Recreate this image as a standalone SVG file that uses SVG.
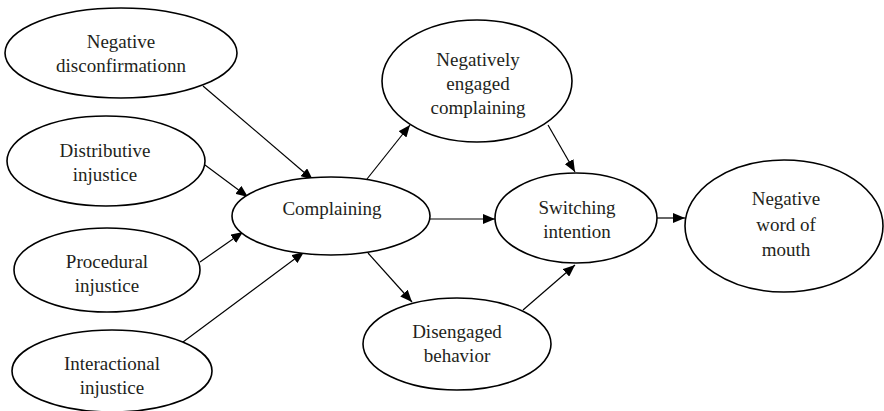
<svg xmlns="http://www.w3.org/2000/svg" width="884" height="411" viewBox="0 0 884 411">
<style>
.n ellipse{fill:#fff;stroke:#000;stroke-width:1.6}
.n text{font-family:"Liberation Serif","Times New Roman",serif;font-size:19px;fill:#231f20;text-anchor:middle}
.e line{stroke:#000;stroke-width:1.2;marker-end:url(#ah)}
</style>
<defs>
<marker id="ah" viewBox="0 0 12 10" refX="12" refY="5" markerWidth="12" markerHeight="10" markerUnits="userSpaceOnUse" orient="auto">
<path d="M0,0 L12,5 L0,10 Z" fill="#000"/>
</marker>
</defs>
<rect width="884" height="411" fill="#fff"/>
<g id="edges" class="e">
<line x1="203" y1="86" x2="313" y2="180"/>
<line x1="205" y1="165" x2="248" y2="197"/>
<line x1="200" y1="262" x2="243" y2="232"/>
<line x1="183" y1="342" x2="304" y2="252"/>
<line x1="367" y1="179" x2="410" y2="125"/>
<line x1="430" y1="219" x2="495" y2="219"/>
<line x1="368" y1="253" x2="412" y2="302"/>
<line x1="548" y1="125" x2="575" y2="172"/>
<line x1="523" y1="310" x2="575" y2="265"/>
<line x1="657" y1="218" x2="685" y2="218"/>
</g>
<g id="neg_disconf" class="n">
<ellipse cx="121" cy="53" rx="116" ry="45"/>
<text x="121" y="48">Negative</text>
<text x="121" y="72">disconfirmationn</text>
</g>
<g id="distributive" class="n">
<ellipse cx="106" cy="161" rx="99" ry="45"/>
<text x="105" y="157">Distributive</text>
<text x="105" y="181">injustice</text>
</g>
<g id="procedural" class="n">
<ellipse cx="107" cy="270" rx="93" ry="42"/>
<text x="107" y="268">Procedural</text>
<text x="107" y="292">injustice</text>
</g>
<g id="interactional" class="n">
<ellipse cx="112" cy="371" rx="100" ry="41"/>
<text x="112" y="370">Interactional</text>
<text x="112" y="394">injustice</text>
</g>
<g id="complaining" class="n">
<ellipse cx="331" cy="216" rx="99" ry="39"/>
<text x="332" y="215">Complaining</text>
</g>
<g id="neg_engaged" class="n">
<ellipse cx="477" cy="81" rx="95" ry="61"/>
<text x="478" y="66">Negatively</text>
<text x="478" y="90">engaged</text>
<text x="478" y="114">complaining</text>
</g>
<g id="switching" class="n">
<ellipse cx="576" cy="218" rx="81" ry="45"/>
<text x="577" y="214">Switching</text>
<text x="577" y="238">intention</text>
</g>
<g id="disengaged" class="n">
<ellipse cx="457" cy="344" rx="94" ry="46"/>
<text x="457" y="338">Disengaged</text>
<text x="457" y="362">behavior</text>
</g>
<g id="nwom" class="n">
<ellipse cx="784" cy="226" rx="99" ry="66"/>
<text x="786" y="205">Negative</text>
<text x="786" y="231">word of</text>
<text x="786" y="256">mouth</text>
</g>
</svg>
